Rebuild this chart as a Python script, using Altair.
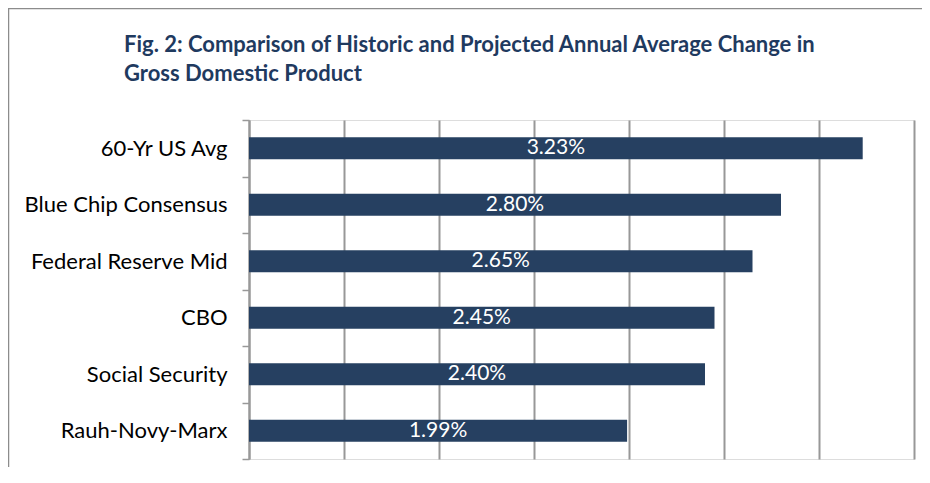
import altair as alt
import pandas as pd

categories = ["60-Yr US Avg", "Blue Chip Consensus", "Federal Reserve Mid",
              "CBO", "Social Security\u00a0", "Rauh-Novy-Marx"]
values = [3.23, 2.80, 2.65, 2.45, 2.40, 1.99]
grid_values = [0, 0.5, 1, 1.5, 2, 2.5, 3, 3.5]
title_line1 = "Fig. 2: Comparison of Historic and Projected Annual Average Change in"
title_line2 = "Gross Domestic Product"

df = pd.DataFrame({"category": categories, "value": values})

NAVY = "#264061"
TITLE_C = "#1F3A5F"
GRID = "#989898"
FONT = "Lato"

x_scale = alt.Scale(domain=[0, 3.5], nice=False, zero=True)
x_axis = alt.Axis(values=grid_values, labels=False, ticks=False, domain=False,
                  grid=True, gridColor=GRID, gridWidth=2, title=None)
y_scale = alt.Scale(paddingInner=0, paddingOuter=0)
y_axis = alt.Axis(title=None, tickBand="extent", tickSize=7, tickColor=GRID,
                  tickWidth=1.5, domainColor=GRID, domainWidth=2,
                  labelFont=FONT, labelFontSize=22, labelColor="#000000",
                  labelPadding=15, labelLimit=0, grid=False)

base = alt.Chart(df)
bars = base.mark_bar(color=NAVY, size=22).encode(
    x=alt.X("value:Q", scale=x_scale, axis=x_axis),
    y=alt.Y("category:N", sort=categories, scale=y_scale, axis=y_axis),
)
labels = base.transform_calculate(
    mid="datum.value / 2",
    label="format(datum.value, '.2f') + '%'",
).mark_text(color="white", font=FONT, fontSize=21, baseline="middle").encode(
    x=alt.X("mid:Q", scale=x_scale, axis=x_axis),
    y=alt.Y("category:N", sort=categories, scale=y_scale, axis=y_axis),
    text="label:N",
)

frame_df = pd.DataFrame({"k": [0]})
top_border = alt.Chart(frame_df).mark_rule(color="#8c8c8c", strokeWidth=1.5).encode(
    x=alt.value(-241), x2=alt.value(673), y=alt.value(-111.5))
left_border = alt.Chart(frame_df).mark_rule(color="#8c8c8c", strokeWidth=1.5).encode(
    x=alt.value(-240.5), y=alt.value(-112), y2=alt.value(347))

title_style = dict(font=FONT, fontSize=22, fontWeight="bold", color=TITLE_C,
                   align="left", baseline="alphabetic")
title1 = alt.Chart(frame_df).mark_text(text=title_line1, **title_style).encode(
    x=alt.value(-125), y=alt.value(-68))
title2 = alt.Chart(frame_df).mark_text(text=title_line2, **title_style).encode(
    x=alt.value(-125), y=alt.value(-39))

chart = alt.layer(bars, labels, top_border, left_border, title1, title2).properties(
    width=665,
    height=339,
    padding={"left": 241, "top": 112, "right": 8, "bottom": 8},
    autosize=alt.AutoSizeParams(type="none"),
).configure_view(stroke=None).configure(background="white")

chart.save("out.html", embed_options={"renderer": "svg", "actions": False})
